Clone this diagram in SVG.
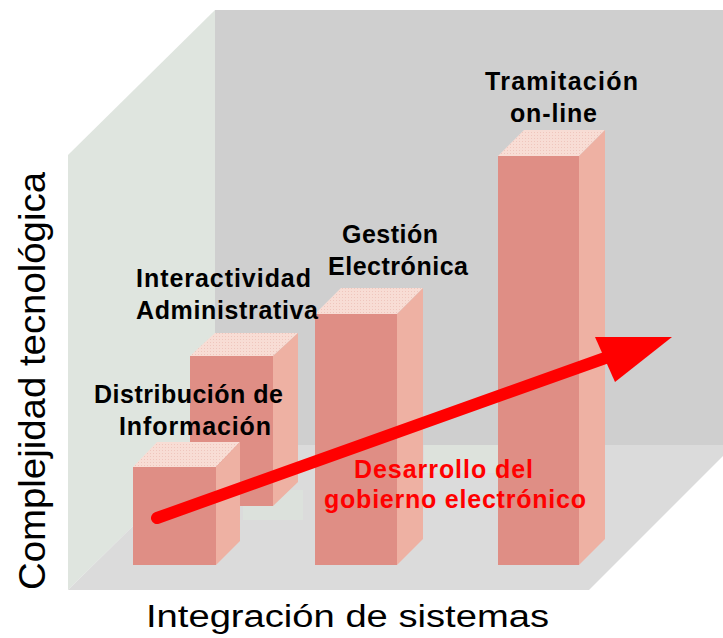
<svg xmlns="http://www.w3.org/2000/svg" width="723" height="638" viewBox="0 0 723 638">
<style>
.front{fill:#df8e85}
.top{fill:#f7dad2}
.side{fill:#eeb1a3}
.lbl{font-family:"Liberation Sans",Arial,sans-serif;font-weight:bold;font-size:25px;fill:#000}
.red{fill:#ff0000}
.axis{font-family:"Liberation Sans",Arial,sans-serif;fill:#000}
</style>
<defs>
<pattern id="dots" width="3" height="3" patternUnits="userSpaceOnUse">
<rect width="3" height="3" fill="#f8ddd5"/>
<rect width="1" height="1" fill="#efc6bd"/>
</pattern>
</defs>
<rect width="723" height="638" fill="#ffffff"/>
<g id="room">
<rect x="215" y="10" width="508" height="436" fill="#cfcfcf"/>
<polygon points="68,155 215,10 215,445 68,590" fill="#dfe5df"/>
<polygon points="215,445 723,445 723,456 589,590 68,590" fill="#dbdbdb"/>
<rect x="424" y="445" width="74" height="28" fill="#dde2dc"/>
<rect x="243" y="490" width="60" height="30" fill="#dce1dc"/>
</g>
<g id="tramitacion">
<rect class="front" x="498" y="156" width="81" height="409"/>
<polygon fill="url(#dots)" points="498,156 579,156 605,130 524,130"/>
<polygon class="side" points="579,156 605,130 605,539 579,565"/>
<text class="lbl" x="485" y="90" textLength="153" lengthAdjust="spacing">Tramitación</text>
<text class="lbl" x="510" y="122" textLength="87" lengthAdjust="spacing">on-line</text>
</g>
<g id="gestion">
<rect class="front" x="315" y="314" width="82" height="251"/>
<polygon fill="url(#dots)" points="315,314 397,314 423,288 341,288"/>
<polygon class="side" points="397,314 423,288 423,539 397,565"/>
<text class="lbl" x="342" y="243" textLength="96" lengthAdjust="spacing">Gestión</text>
<text class="lbl" x="328" y="275" textLength="140" lengthAdjust="spacing">Electrónica</text>
</g>
<g id="interactividad">
<rect class="front" x="190" y="356" width="83" height="150"/>
<polygon fill="url(#dots)" points="190,356 273,356 298,333 215,333"/>
<polygon class="side" points="273,356 298,333 298,482 273,506"/>
<text class="lbl" x="136" y="287" textLength="175" lengthAdjust="spacing">Interactividad</text>
<text class="lbl" x="136" y="319" textLength="182" lengthAdjust="spacing">Administrativa</text>
</g>
<g id="distribucion">
<rect class="front" x="133" y="467" width="83" height="98"/>
<polygon fill="url(#dots)" points="133,467 216,467 240,442 157,442"/>
<polygon class="side" points="216,467 240,442 240,541 216,565"/>
<text class="lbl" x="94" y="403" textLength="189" lengthAdjust="spacing">Distribución de</text>
<text class="lbl" x="119" y="435" textLength="152" lengthAdjust="spacing">Información</text>
</g>
<g id="connectors">
<line x1="157" y1="518" x2="608" y2="357" stroke="#ff0000" stroke-width="12" stroke-linecap="round"/>
<polygon points="595,337 672,337 615,382" fill="#ff0000"/>
</g>
<g id="desarrollo">
<text class="lbl red" x="354" y="478" textLength="179" lengthAdjust="spacing">Desarrollo del</text>
<text class="lbl red" x="324" y="508" textLength="262" lengthAdjust="spacing">gobierno electrónico</text>
</g>
<g id="axes">
<text class="axis" x="146" y="627" font-size="31" textLength="403" lengthAdjust="spacingAndGlyphs">Integración de sistemas</text>
<text class="axis" transform="translate(45,590) rotate(-90)" x="0" y="0" font-size="37" textLength="418" lengthAdjust="spacingAndGlyphs">Complejidad tecnológica</text>
</g>
</svg>
